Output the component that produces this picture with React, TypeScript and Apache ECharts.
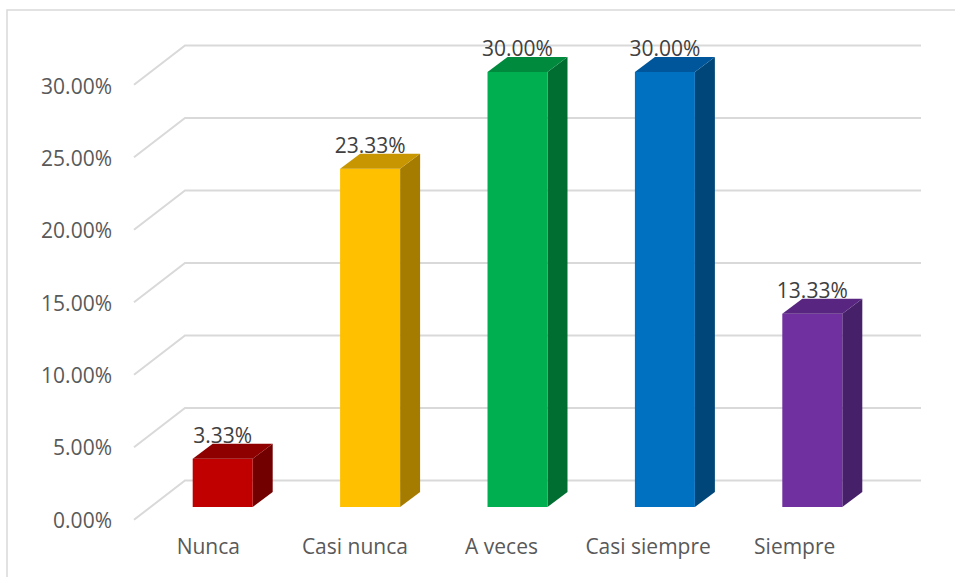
import React, { useEffect, useRef } from "react";
import * as echarts from "echarts";

const categories = ["Nunca", "Casi nunca", "A veces", "Casi siempre", "Siempre"];
const values = [3.33, 23.33, 30.0, 30.0, 13.33];
const tickValues = [0, 5, 10, 15, 20, 25, 30];
const frontColors = ["#C00000", "#FFC000", "#00B050", "#0070C0", "#7030A0"];
const topColors = ["#8E0000", "#C89600", "#008A3D", "#00569A", "#582680"];
const sideColors = ["#730000", "#A67C00", "#006E30", "#004678", "#47206A"];

const FONT = '"Open Sans", "Noto Sans", sans-serif';
const FS = 21;

export default function App() {
  const ref = useRef<HTMLDivElement>(null);
  useEffect(() => {
    if (!ref.current) return;
    const chart = echarts.init(ref.current, null, { renderer: "svg" });
    const fmt = (v: number) => v.toFixed(2) + "%";
    const option: any = {
      animation: false,
      backgroundColor: "#ffffff",
      graphic: [
        {
          type: "rect",
          shape: { x: 7, y: 10, width: 1000, height: 700 },
          style: { fill: "none", stroke: "#D9D9D9", lineWidth: 1.5 },
          silent: true,
          z: -10,
        },
      ],
      grid: [
        { left: 149, width: 737, top: 72, height: 435 },
        { left: 120, width: 700, top: 85.5, height: 434 },
        { left: 135, width: 733, top: 85.5, height: 434 },
      ],
      xAxis: [
        { gridIndex: 0, type: "category", data: categories, show: false },
        { gridIndex: 1, type: "value", show: false },
        {
          gridIndex: 2,
          type: "category",
          data: categories,
          axisLine: { show: false },
          axisTick: { show: false },
          splitLine: { show: false },
          axisLabel: { interval: 0, margin: 16, color: "#595959", fontSize: FS, fontFamily: FONT },
        },
      ],
      yAxis: [
        { gridIndex: 0, type: "value", min: 0, max: 30, interval: 5, show: false },
        {
          gridIndex: 1,
          type: "value",
          min: 0,
          max: 30,
          interval: 5,
          axisLine: { show: false },
          axisTick: { show: false },
          splitLine: { show: false },
          axisLabel: { margin: 8, color: "#595959", fontSize: FS, fontFamily: FONT, formatter: fmt },
        },
        { gridIndex: 2, type: "value", min: 0, max: 30, show: false },
      ],
      series: [
        {
          type: "custom",
          xAxisIndex: 0,
          yAxisIndex: 0,
          silent: true,
          z: 1,
          data: tickValues.map((v) => [0, v]),
          renderItem: (params: any, api: any) => {
            const y = api.coord([0, api.value(1)])[1];
            return {
              type: "polyline",
              shape: {
                points: [
                  [134, y + 12.8],
                  [185, y - 26.5],
                  [921, y - 26.5],
                ],
              },
              style: { stroke: "#D9D9D9", lineWidth: 2, fill: "none" },
            };
          },
        },
        {
          type: "custom",
          xAxisIndex: 0,
          yAxisIndex: 0,
          z: 2,
          data: values.map((v, i) => [i, v]),
          renderItem: (params: any, api: any) => {
            const i = params.dataIndex;
            const idx = api.value(0);
            const v = api.value(1);
            const pt = api.coord([idx, v]);
            const cx = pt[0];
            const top = pt[1];
            const bottom = api.coord([idx, 0])[1];
            const band = api.size([1, 0])[0];
            const w = band * 0.407;
            const x0 = cx - w / 2;
            const x1 = cx + w / 2;
            const dx = 20;
            const dy = 15;
            return {
              type: "group",
              children: [
                {
                  type: "polygon",
                  shape: { points: [[x1, top], [x1 + dx, top - dy], [x1 + dx, bottom - dy], [x1, bottom]] },
                  style: { fill: sideColors[i] },
                },
                {
                  type: "rect",
                  shape: { x: x0, y: top, width: w, height: bottom - top },
                  style: { fill: frontColors[i] },
                },
                {
                  type: "polygon",
                  shape: { points: [[x0, top], [x0 + dx, top - dy], [x1 + dx, top - dy], [x1, top]] },
                  style: { fill: topColors[i] },
                },
                {
                  type: "text",
                  x: cx,
                  y: top - 24,
                  style: {
                    text: fmt(v),
                    fill: "#404040",
                    font: FS + "px " + FONT,
                    align: "center",
                    verticalAlign: "middle",
                  },
                },
              ],
            };
          },
        },
      ],
    };
    chart.setOption(option);
    return () => chart.dispose();
  }, []);
  return (
    <div
      ref={ref}
      style={{ position: "fixed", left: 0, top: 0, width: 955, height: 577, background: "#fff" }}
    />
  );
}
